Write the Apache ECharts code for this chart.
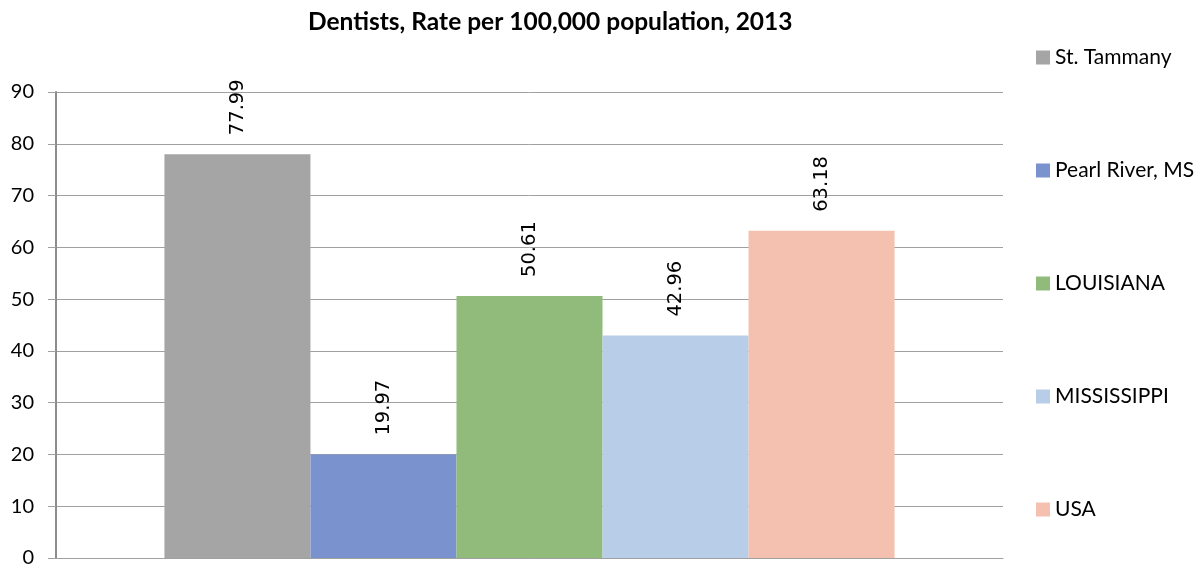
<!DOCTYPE html>
<html><head><meta charset="utf-8">
<script src="https://cdn.jsdelivr.net/npm/echarts@6/dist/echarts.min.js"></script>
<style>html,body{margin:0;padding:0;background:#fff}#c{width:1201px;height:568px}</style>
</head><body><div id="c"></div>
<script>
const categories = [''];
const seriesNames = ['St. Tammany', 'Pearl River, MS', 'LOUISIANA', 'MISSISSIPPI', 'USA'];
const seriesValues = [77.99, 19.97, 50.61, 42.96, 63.18];
const colors = ['#A5A5A5', '#7A93CE', '#91BB7A', '#B8CDE7', '#F4C1B0'];
const yTicks = [0, 10, 20, 30, 40, 50, 60, 70, 80, 90];

const chart = echarts.init(document.getElementById('c'), null, {renderer: 'canvas'});
chart.setOption({
  animation: false,
  backgroundColor: '#fff',
  title: {
    text: 'Dentists, Rate per 100,000 population, 2013',
    left: 303, top: 5,
    textStyle: {fontFamily: 'Lato', fontWeight: 'bold', fontSize: 24.5, color: '#000'}
  },
  legend: {
    orient: 'vertical', left: 1031, top: 42, itemGap: 92,
    itemWidth: 14, itemHeight: 14, icon: 'rect',
    textStyle: {fontFamily: 'Lato', fontSize: 21, color: '#000', padding: [0,0,0,0]},
    data: seriesNames
  },
  grid: {left: 56, right: 198, top: 92, bottom: 10, containLabel: false},
  xAxis: {
    type: 'category', data: categories,
    axisLine: {show: true, lineStyle: {color: '#A0A0A0', width: 1}},
    axisTick: {show: false}, axisLabel: {show: false}
  },
  yAxis: {
    type: 'value', min: yTicks[0], max: yTicks[yTicks.length - 1], interval: 10,
    axisLine: {show: true, lineStyle: {color: '#8C8C8C', width: 2}},
    axisTick: {show: true, length: 8, lineStyle: {color: '#A0A0A0'}},
    axisLabel: {fontFamily: 'Lato', fontSize: 20, color: '#000', margin: 22},
    splitLine: {show: true, lineStyle: {color: '#A0A0A0', width: 1}}
  },
  series: seriesNames.map((name, i) => ({
    name, type: 'bar',
    data: [seriesValues[i]],
    itemStyle: {color: colors[i]},
    barGap: '0%', barCategoryGap: '22.9%',
    label: {
      show: true, position: 'top', rotate: 90, align: 'left', verticalAlign: 'middle',
      distance: 19, fontFamily: 'DejaVu Sans', fontSize: 19.5, color: '#000',
      formatter: p => p.value.toFixed(2)
    }
  }))
});
</script></body></html>
